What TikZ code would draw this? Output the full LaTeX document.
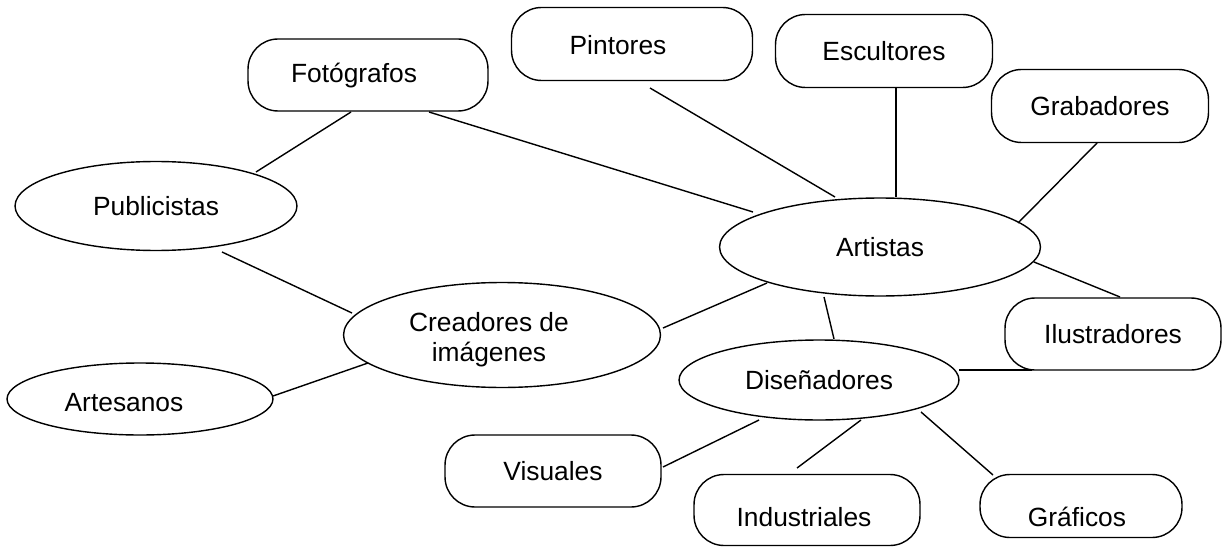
\documentclass[tikz,border=0pt]{standalone}
\usepackage{fontspec}
\setmainfont{Liberation Sans}
\usetikzlibrary{shapes.geometric,calc}
\begin{document}
\begin{tikzpicture}[x=0.02cm,y=-0.02cm,line width=0.8pt,
    every node/.style={font=\fontsize{15}{17}\selectfont,align=center,inner sep=0pt},
    caja/.style={draw,rounded corners=0.6cm},
    elipse/.style={draw,ellipse}]
        \useasboundingbox (0,0) rectangle (1222,547);
        \node[caja,minimum width=4.8cm,minimum height=1.44cm] (foto) at (368,75) {};
        \node at (354,76) {Fotógrafos};
        \node[caja,minimum width=4.82cm,minimum height=1.46cm] (pint) at (632,44) {};
        \node at (618,45) {Pintores};
        \node[caja,minimum width=4.34cm,minimum height=1.46cm] (escu) at (884,51) {Escultores};
        \node[caja,minimum width=4.34cm,minimum height=1.46cm] (grab) at (1100,106) {Grabadores};
        \node[elipse,minimum width=5.64cm,minimum height=1.78cm] (publ) at (156,206) {Publicistas};
        \node[elipse,minimum width=6.42cm,minimum height=1.96cm] (arti) at (880,247) {Artistas};
        \node[elipse,minimum width=6.34cm,minimum height=2.1cm] (crea) at (502,335) {};
        \node at (489,340) {Creadores de\\imágenes};
        \node[elipse,minimum width=5.32cm,minimum height=1.44cm] (arte) at (140,399) {};
        \node at (124,403) {Artesanos};
        \node[caja,minimum width=4.32cm,minimum height=1.44cm] (ilus) at (1113,334) {Ilustradores};
        \node[elipse,minimum width=5.6cm,minimum height=1.6cm] (dise) at (819,380) {Diseñadores};
        \node[caja,minimum width=4.32cm,minimum height=1.44cm] (visu) at (553,471) {Visuales};
        \node[caja,minimum width=4.52cm,minimum height=1.42cm] (indu) at (807,510) {};
        \node at (804,517) {Industriales};
        \node[caja,minimum width=4.04cm,minimum height=1.26cm] (graf) at (1081,506) {};
        \node at (1077,517) {Gráficos};

        \draw ($(foto)+(-17,37)$) -- ($(publ)+(100,-34)$);
        \draw ($(foto)+(61,37)$) -- ($(arti)+(-127,-35)$);
        \draw ($(pint)+(18,44)$) -- ($(arti)+(-45,-50)$);
        \draw ($(escu)+(12,37)$) -- ($(arti)+(16,-50)$);
        \draw ($(grab)+(-3,37)$) -- ($(arti)+(138,-24)$);
        \draw ($(arti)+(154,15)$) -- ($(ilus)+(7,-37)$);
        \draw ($(arti)+(-113,36)$) -- ($(crea)+(161,-7)$);
        \draw ($(publ)+(66,46)$) -- ($(crea)+(-150,-22)$);
        \draw ($(arte)+(133,-3)$) -- ($(crea)+(-134,28)$);
        \draw ($(arti)+(-56,50)$) -- ($(dise)+(15,-41)$);
        \draw ($(dise)+(140,-10)$) -- ($(ilus)+(-81,36)$);
        \draw ($(dise)+(-60,40)$) -- ($(visu)+(110,-4)$);
        \draw ($(dise)+(42,40)$) -- ($(indu)+(-10,-42)$);
        \draw ($(dise)+(102,32)$) -- ($(graf)+(-88,-31)$);
      \end{tikzpicture}
\end{document}
